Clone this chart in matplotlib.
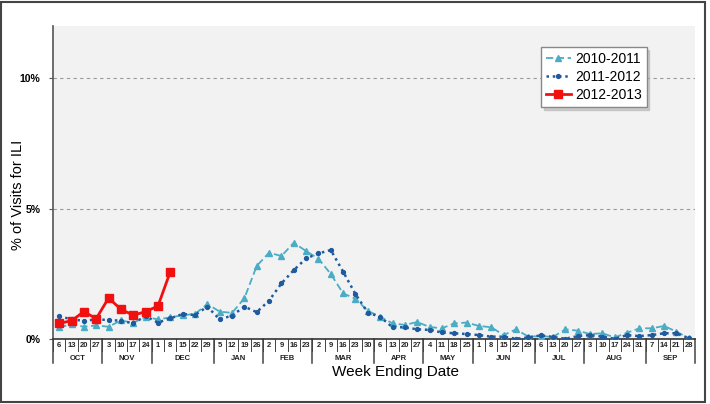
import matplotlib
matplotlib.use("Agg")
import matplotlib.pyplot as plt
from matplotlib.patches import Rectangle
from matplotlib.transforms import blended_transform_factory

plt.rcParams["font.family"] = ["Liberation Sans", "DejaVu Sans"]

# week-ending day numbers, Oct .. Sep
week_days = [6, 13, 20, 27, 3, 10, 17, 24, 1, 8, 15, 22, 29, 5, 12, 19, 26,
             2, 9, 16, 23, 2, 9, 16, 23, 30, 6, 13, 20, 27, 4, 11, 18, 25,
             1, 8, 15, 22, 29, 6, 13, 20, 27, 3, 10, 17, 24, 31, 7, 14, 21, 28]
months = ["OCT", "NOV", "DEC", "JAN", "FEB", "MAR", "APR", "MAY", "JUN", "JUL", "AUG", "SEP"]
weeks_per_month = [4, 4, 5, 4, 4, 5, 4, 4, 5, 4, 5, 4]

ili_2010 = [0.45, 0.56, 0.47, 0.52, 0.47, 0.71, 0.62, 0.85, 0.75, 0.83, 0.91, 0.96, 1.34,
            1.05, 1.00, 1.56, 2.80, 3.31, 3.18, 3.69, 3.37, 3.08, 2.49, 1.75, 1.54, 1.08,
            0.85, 0.60, 0.54, 0.65, 0.46, 0.41, 0.60, 0.63, 0.50, 0.45, 0.15, 0.37, 0.09,
            0.11, 0.08, 0.37, 0.32, 0.19, 0.22, 0.06, 0.24, 0.41, 0.41, 0.50, 0.28, 0.03]
ili_2011 = [0.88, 0.75, 0.70, 0.75, 0.73, 0.70, 0.60, 0.88, 0.63, 0.79, 0.96, 0.92, 1.24,
            0.75, 0.90, 1.24, 1.03, 1.47, 2.13, 2.64, 3.09, 3.28, 3.41, 2.58, 1.72, 1.01,
            0.85, 0.45, 0.45, 0.37, 0.35, 0.25, 0.22, 0.19, 0.15, 0.09, 0.09, 0.01, 0.06,
            0.14, 0.08, 0.01, 0.11, 0.15, 0.09, 0.01, 0.15, 0.11, 0.15, 0.22, 0.22, 0.03]
ili_2012 = [0.60, 0.70, 1.05, 0.78, 1.57, 1.14, 0.91, 1.05, 1.26, 2.58]

fig = plt.figure(figsize=(7.1, 4.04), dpi=100)
ax = fig.add_axes([53 / 710, 1 - 339 / 404, 642 / 710, 313 / 404])
ax.set_facecolor("#f2f2f2")

x = list(range(len(week_days)))
ax.plot(x, ili_2010, color="#4bacc6", ls=(0, (4, 2)), lw=1.3, marker="^", ms=4.5,
        label="2010-2011", zorder=3)
ax.plot(x, ili_2011, color="#1f5a9e", ls=(0, (1, 1.5)), lw=1.8, marker="o", ms=2.8,
        label="2011-2012", zorder=3)
ax.plot(range(len(ili_2012)), ili_2012, color="#f01010", lw=2, marker="s", ms=6,
        label="2012-2013", zorder=4)

ax.set_xlim(-0.5, len(week_days) - 0.5)
ax.set_ylim(0, 12)
ax.set_yticks([0, 5, 10])
ax.set_yticklabels(["0%", "5%", "10%"], fontsize=7.5, fontweight="bold")
ax.tick_params(axis="y", length=3, width=0.8, color="#555555", pad=6)
ax.set_xticks([])
for v in [5, 10]:
    ax.axhline(v, color="#9a9a9a", ls=(0, (3, 3)), lw=0.8, zorder=1)

for side in ["top", "right"]:
    ax.spines[side].set_visible(False)
ax.spines["left"].set_color("#555555")
ax.spines["bottom"].set_color("#333333")
ax.spines["left"].set_linewidth(1.2)
ax.spines["bottom"].set_linewidth(1.2)

# category table under the axis
tr = blended_transform_factory(ax.transData, ax.transAxes)
for i, d in enumerate(week_days):
    ax.text(i, -0.022, str(d), transform=tr, ha="center", va="center",
            fontsize=5.5, fontweight="bold", color="#222222")
    ax.plot([i - 0.5, i - 0.5], [0, -0.038], transform=tr, color="#444444",
            lw=0.7, clip_on=False)
start = 0
for m, n in zip(months, weeks_per_month):
    ax.text(start + n / 2 - 0.5, -0.062, m, transform=tr, ha="center", va="center",
            fontsize=5.5, fontweight="bold", color="#222222")
    ax.plot([start - 0.5, start - 0.5], [0, -0.077], transform=tr, color="#444444",
            lw=1.1, clip_on=False)
    start += n
ax.plot([start - 0.5, start - 0.5], [0, -0.077], transform=tr, color="#444444",
        lw=1.1, clip_on=False)

fig.text(0.557, 0.079, "Week Ending Date", ha="center", va="center", fontsize=11)
fig.text(0.025, 0.517, "% of Visits for ILI", ha="center", va="center",
         rotation=90, fontsize=10.5)

leg = ax.legend(loc="upper left", bbox_to_anchor=(0.760, 0.933), fontsize=10,
                fancybox=False, shadow={"ox": 2, "oy": -2, "color": "#aaaaaa"},
                edgecolor="#888888", framealpha=1, borderaxespad=0,
                handlelength=1.8, borderpad=0.35, labelspacing=0.3, handletextpad=0.3)

fig.patches.append(Rectangle((1 / 710, 2 / 404), 704 / 710, 400 / 404,
                             transform=fig.transFigure, fill=False,
                             edgecolor="#444444", lw=1.5))

fig.savefig("out.png", dpi=100)
